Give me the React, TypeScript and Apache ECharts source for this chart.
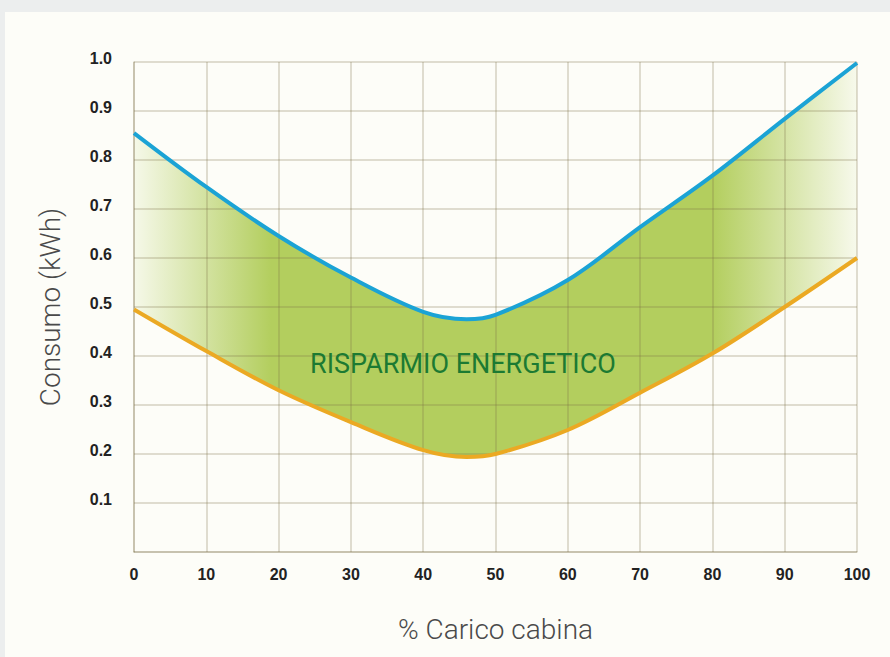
import React, { useEffect, useRef } from "react";
import * as echarts from "echarts";

const xValues = [0, 10, 20, 30, 40, 46, 50, 60, 70, 80, 90, 100];
const conventional = [0.855, 0.745, 0.645, 0.56, 0.49, 0.475, 0.484, 0.555, 0.663, 0.768, 0.884, 0.998];
const efficient = [0.495, 0.41, 0.33, 0.265, 0.208, 0.194, 0.2, 0.249, 0.325, 0.405, 0.5, 0.6];
const yTicks = [0.1, 0.2, 0.3, 0.4, 0.5, 0.6, 0.7, 0.8, 0.9, 1.0];
const xTicks = [0, 10, 20, 30, 40, 50, 60, 70, 80, 90, 100];
const savingLabel = "RISPARMIO ENERGETICO";
const yTitle = "Consumo (kWh)";
const xTitle = "% Carico cabina";

export default function App() {
  const ref = useRef<HTMLDivElement>(null);
  useEffect(() => {
    if (!ref.current) return;
    const chart = echarts.init(ref.current, undefined, { renderer: "svg" });
    const lowerPts = xValues.map((x, i) => [x, efficient[i]]);
    const upperPts = xValues.map((x, i) => [x, conventional[i]]);
    const green = (a: number) => `rgba(179,206,94,${a})`;
    const gridColor = "rgba(120,110,70,0.3)";
    const tickFont = "'Liberation Sans Narrow', 'Liberation Sans', Arial, sans-serif";
    const sm = 0.35;
    chart.setOption({
      animation: false,
      backgroundColor: "#eceeee",
      graphic: [
        {
          type: "rect",
          shape: { x: 5, y: 12, width: 890, height: 660 },
          style: { fill: "#fdfdf8" },
          z: -10,
          silent: true,
        },
        {
          type: "text",
          left: 310,
          top: 350,
          z: 100,
          style: {
            text: savingLabel,
            fill: "#1c7a32",
            font: "400 27px Roboto, 'Noto Sans', sans-serif",
          },
        },
      ],
      grid: { left: 134, right: 33, top: 62, bottom: 105, containLabel: false },
      xAxis: {
        type: "value",
        min: 0,
        max: 100,
        interval: 10,
        z: 3,
        name: xTitle,
        nameLocation: "middle",
        nameGap: 63,
        nameTextStyle: { fontFamily: "Roboto", fontSize: 28, fontWeight: 300, color: "#4a4a4a" },
        axisLine: { show: true, lineStyle: { color: gridColor, width: 1.5 } },
        axisTick: { show: false },
        splitLine: { show: true, lineStyle: { color: gridColor, width: 1.5 } },
        axisLabel: {
          margin: 14,
          fontFamily: tickFont,
          fontWeight: "bold",
          fontSize: 16,
          color: "#222",
          formatter: (v: number) => (xTicks.includes(v) ? String(v) : ""),
        },
      },
      yAxis: {
        type: "value",
        min: 0,
        max: 1.0,
        interval: 0.1,
        z: 3,
        name: yTitle,
        nameLocation: "middle",
        nameGap: 70,
        nameRotate: 90,
        nameTextStyle: { fontFamily: "Roboto", fontSize: 28, fontWeight: 300, color: "#4a4a4a" },
        axisLine: { show: true, lineStyle: { color: gridColor, width: 1.5 } },
        axisTick: { show: false },
        splitLine: { show: true, lineStyle: { color: gridColor, width: 1.5 } },
        axisLabel: {
          margin: 22,
          fontFamily: tickFont,
          fontWeight: "bold",
          fontSize: 16,
          color: "#222",
          verticalAlign: "bottom",
          lineHeight: 8,
          formatter: (v: number) => {
            const t = yTicks.find((y) => Math.abs(y - v) < 1e-6);
            return t === undefined ? "" : t.toFixed(1);
          },
        },
      },
      series: [
        {
          type: "line",
          data: upperPts,
          smooth: sm,
          symbol: "none",
          lineStyle: { width: 0, opacity: 0 },
          areaStyle: {
            origin: "start",
            opacity: 1,
            color: new echarts.graphic.LinearGradient(0, 0, 1, 0, [
              { offset: 0, color: green(0.1) },
              { offset: 0.19, color: green(1) },
              { offset: 0.8, color: green(1) },
              { offset: 1, color: green(0.08) },
            ]),
          },
          silent: true,
          z: 1,
        },
        {
          type: "line",
          data: lowerPts,
          smooth: sm,
          symbol: "none",
          lineStyle: { width: 0, opacity: 0 },
          areaStyle: { origin: "start", opacity: 1, color: "#fdfdf8" },
          silent: true,
          z: 2,
        },
        {
          type: "line",
          data: upperPts,
          smooth: sm,
          symbol: "none",
          lineStyle: { width: 4, color: "#1ba3d5" },
          z: 5,
        },
        {
          type: "line",
          data: lowerPts,
          smooth: sm,
          symbol: "none",
          lineStyle: { width: 4, color: "#eba923" },
          z: 5,
        },
      ],
    });
    return () => chart.dispose();
  }, []);
  return (
    <div style={{ position: "fixed", left: 0, top: 0, width: 890, height: 657 }}>
      <div ref={ref} style={{ width: 890, height: 657 }} />
    </div>
  );
}
